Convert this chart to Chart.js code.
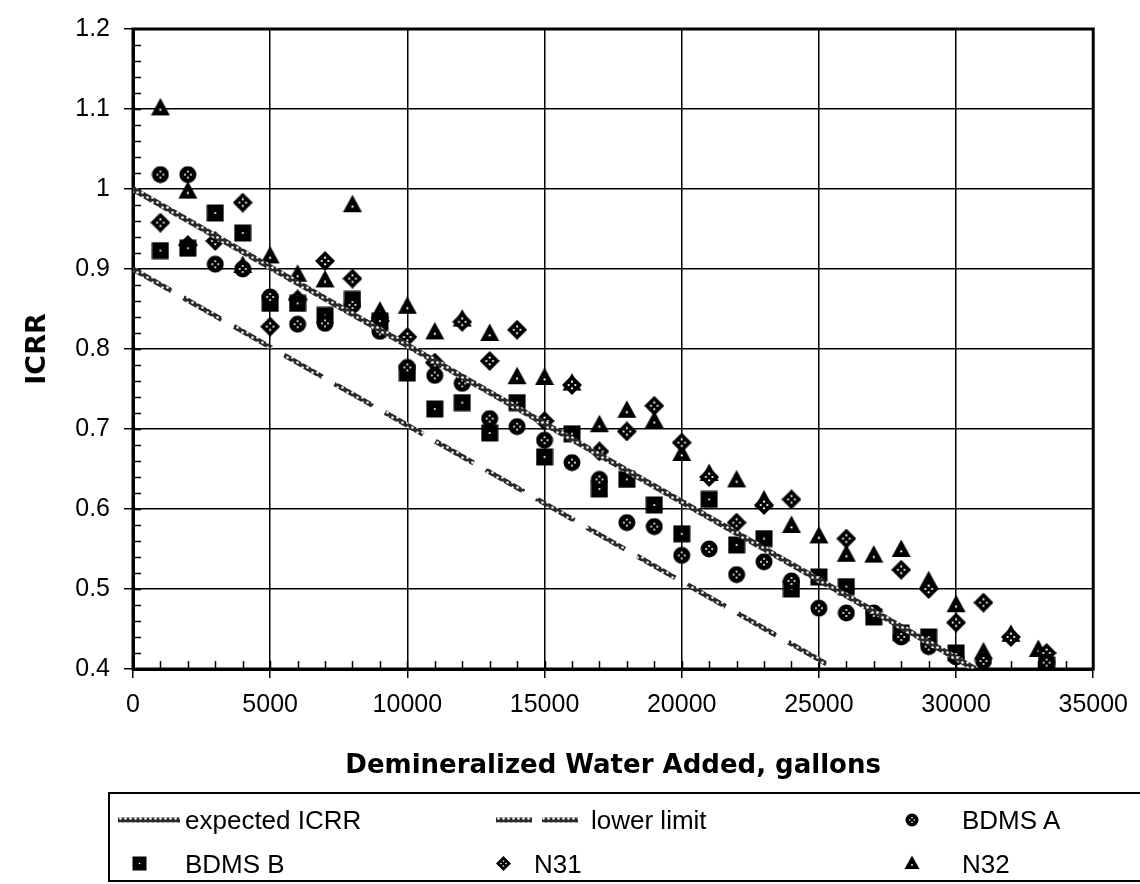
<!DOCTYPE html>
<html>
<head>
<meta charset="utf-8">
<script src="https://cdn.jsdelivr.net/npm/chart.js@4.4.0/dist/chart.umd.min.js"></script>
<style>
  html, body { margin: 0; padding: 0; background: #fff; }
  #wrap { position: relative; width: 1140px; height: 884px; overflow: hidden; }
  #legend { position: absolute; left: 108px; top: 792px; width: 1040px; height: 86px;
            border-top: 2px solid #000; border-bottom: 2px solid #000; border-left: 2px solid #000;
            font: 26px "Liberation Sans", Arial, sans-serif; color: #000; }
  .txt { position: absolute; white-space: nowrap; line-height: 30px; }
  .smp { position: absolute; }
</style>
</head>
<body>
<div id="wrap">
  <canvas id="chart" width="1140" height="884"></canvas>
  <div id="legend"></div>
</div>
<script>
// x in gallons, y = ICRR
var bdmsAX = [1000, 2000, 3000, 4000, 5000, 6000, 7000, 8000, 9000, 10000, 11000, 12000, 13000, 14000, 15000, 16000,
              17000, 18000, 19000, 20000, 21000, 22000, 23000, 24000, 25000, 26000, 27000, 28000, 29000, 30000, 31000, 33300];
var bdmsAY = [1.018, 1.018, 0.906, 0.900, 0.865, 0.831, 0.832, 0.855, 0.822, 0.777, 0.767, 0.757, 0.713, 0.703, 0.686, 0.658,
              0.637, 0.583, 0.578, 0.542, 0.550, 0.518, 0.534, 0.510, 0.476, 0.470, 0.470, 0.440, 0.428, 0.415, 0.410, 0.408];

var bdmsBX = [1000, 2000, 3000, 4000, 5000, 6000, 7000, 8000, 9000, 10000, 11000, 12000, 13000, 14000, 15000, 16000,
              17000, 18000, 19000, 20000, 21000, 22000, 23000, 24000, 25000, 26000, 27000, 28000, 29000, 30000, 33300];
var bdmsBY = [0.923, 0.926, 0.970, 0.945, 0.857, 0.857, 0.842, 0.862, 0.835, 0.770, 0.725, 0.733, 0.695, 0.733, 0.665, 0.694,
              0.625, 0.637, 0.605, 0.569, 0.612, 0.555, 0.563, 0.500, 0.515, 0.503, 0.465, 0.445, 0.440, 0.420, 0.405];

var n31X = [1000, 2000, 3000, 4000, 5000, 6000, 7000, 8000, 9000, 10000, 11000, 12000, 13000, 14000, 15000, 16000,
            17000, 18000, 19000, 20000, 21000, 22000, 23000, 24000, 26000, 28000, 29000, 30000, 31000, 32000, 33300];
var n31Y = [0.958, 0.930, 0.935, 0.983, 0.828, 0.862, 0.910, 0.888, 0.835, 0.815, 0.783, 0.834, 0.785, 0.824, 0.710, 0.755,
            0.672, 0.697, 0.729, 0.683, 0.640, 0.583, 0.605, 0.612, 0.563, 0.524, 0.500, 0.458, 0.483, 0.440, 0.420];

var n32X = [1000, 2000, 4000, 5000, 6000, 7000, 8000, 9000, 10000, 11000, 12000, 13000, 14000, 15000, 16000,
            17000, 18000, 19000, 20000, 21000, 22000, 23000, 24000, 25000, 26000, 27000, 28000, 29000, 30000, 31000, 32000, 33000];
var n32Y = [1.102, 0.998, 0.905, 0.917, 0.894, 0.887, 0.981, 0.848, 0.854, 0.822, 0.838, 0.820, 0.766, 0.765, 0.758,
            0.706, 0.724, 0.711, 0.670, 0.645, 0.637, 0.612, 0.580, 0.567, 0.544, 0.543, 0.550, 0.511, 0.481, 0.422, 0.444, 0.425];

var expectedX = [0, 30700];
var expectedY = [1.0, 0.4];
var lowerX = [0, 25600];
var lowerY = [0.9, 0.4];

var xTickLabels = ['0', '5000', '10000', '15000', '20000', '25000', '30000', '35000'];
var yTickLabels = ['0.4', '0.5', '0.6', '0.7', '0.8', '0.9', '1', '1.1', '1.2'];

function toXY(xs, ys) {
  return xs.map(function (x, i) { return { x: x, y: ys[i] }; });
}

// black marker with small white dots
function makeMarker(shape, s) {
  var c = document.createElement('canvas');
  c.width = s; c.height = s;
  var g = c.getContext('2d'), m = s / 2;
  g.fillStyle = '#000';
  g.beginPath();
  if (shape === 'circle') g.arc(m, m, m - 0.5, 0, 2 * Math.PI);
  else if (shape === 'square') g.rect(0.5, 0.5, s - 1, s - 1);
  else if (shape === 'diamond') { g.moveTo(m, 0); g.lineTo(s, m); g.lineTo(m, s); g.lineTo(0, m); g.closePath(); }
  else { g.moveTo(m, 0.5); g.lineTo(s - 0.5, s - 2); g.lineTo(0.5, s - 2); g.closePath(); }
  g.fill();
  g.fillStyle = '#fff';
  var d = s / 6, r = Math.max(0.8, s / 18);
  var dots = (shape === 'circle' || shape === 'diamond')
    ? [[m, m - d], [m, m + d], [m - d, m], [m + d, m]]
    : (shape === 'square' ? [[m, m]] : [[m, s * 0.62]]);
  dots.forEach(function (p) { g.beginPath(); g.arc(p[0], p[1], r, 0, 2 * Math.PI); g.fill(); });
  return c;
}

var canvas = document.getElementById('chart');
var ctx = canvas.getContext('2d');

function hatch(c2d) {
  var c = document.createElement('canvas');
  c.width = 5; c.height = 5;
  var g = c.getContext('2d');
  g.fillStyle = '#2a2a2a'; g.fillRect(0, 0, 5, 5);
  g.fillStyle = '#fff'; g.beginPath(); g.arc(2.5, 2.5, 1.3, 0, 2 * Math.PI); g.fill();
  return c2d.createPattern(c, 'repeat');
}
var linePattern = hatch(ctx);

var minorStepX = 1000, minorStepY = 0.02;

// plot frame + inward minor ticks
var framePlugin = {
  id: 'frame',
  beforeDatasetsDraw: function (chart) {
    var c = chart.ctx, a = chart.chartArea, sx = chart.scales.x, sy = chart.scales.y;
    c.save();
    c.strokeStyle = '#000';
    c.lineWidth = 1.5;
    c.beginPath();
    for (var v = sy.min + minorStepY; v < sy.max - 1e-6; v += minorStepY) {
      var py = Math.round(sy.getPixelForValue(v)) + 0.5;
      c.moveTo(a.left, py); c.lineTo(a.left + 8, py);
    }
    for (var g = sx.min + minorStepX; g < sx.max; g += minorStepX) {
      var px = Math.round(sx.getPixelForValue(g)) + 0.5;
      c.moveTo(px, a.bottom); c.lineTo(px, a.bottom - 8);
    }
    c.stroke();
    c.lineWidth = 3;
    c.strokeRect(a.left, a.top, a.right - a.left, a.bottom - a.top);
    c.restore();
  }
};

var mk = {
  circle: makeMarker('circle', 18),
  square: makeMarker('square', 18),
  diamond: makeMarker('diamond', 20),
  triangle: makeMarker('triangle', 20)
};

var chart = new Chart(ctx, {
  type: 'scatter',
  data: {
    datasets: [
      { label: 'expected ICRR', data: toXY(expectedX, expectedY), showLine: true, borderColor: linePattern,
        borderWidth: 6, pointRadius: 0, fill: false },
      { label: 'lower limit', data: toXY(lowerX, lowerY), showLine: true, borderColor: linePattern,
        borderWidth: 5, borderDash: [44, 14], pointRadius: 0, fill: false },
      { label: 'BDMS A', data: toXY(bdmsAX, bdmsAY), pointStyle: mk.circle, pointRadius: 9 },
      { label: 'BDMS B', data: toXY(bdmsBX, bdmsBY), pointStyle: mk.square, pointRadius: 9 },
      { label: 'N31', data: toXY(n31X, n31Y), pointStyle: mk.diamond, pointRadius: 9 },
      { label: 'N32', data: toXY(n32X, n32Y), pointStyle: mk.triangle, pointRadius: 9 }
    ]
  },
  options: {
    responsive: false,
    animation: false,
    layout: { padding: { top: 19, right: 45, bottom: 100, left: 0 } },
    plugins: { legend: { display: false }, tooltip: { enabled: false } },
    scales: {
      x: {
        type: 'linear', min: 0, max: 35000,
        ticks: { stepSize: 5000, color: '#000', padding: 12, maxRotation: 0,
                 font: { family: 'Liberation Sans', size: 25 },
                 callback: function (v, i) { return xTickLabels[i]; } },
        grid: { color: '#000', lineWidth: 1.5, tickLength: 9 },
        border: { color: '#000', width: 3 },
        title: { display: true, text: 'Demineralized Water Added, gallons', color: '#000',
                 font: { family: 'DejaVu Sans', size: 26, weight: 'bold' }, padding: { top: 0, bottom: 2 } },
        afterFit: function (s) { s.height = 115; }
      },
      y: {
        type: 'linear', min: 0.4, max: 1.2,
        ticks: { stepSize: 0.1, color: '#000', padding: 14,
                 font: { family: 'Liberation Sans', size: 25 },
                 callback: function (v, i) { return yTickLabels[i]; } },
        grid: { color: '#000', lineWidth: 1.5, tickLength: 9 },
        border: { color: '#000', width: 3 },
        title: { display: true, text: 'ICRR', color: '#000',
                 font: { family: 'DejaVu Sans', size: 27, weight: 'bold' }, padding: { top: 22, bottom: 0 } },
        afterFit: function (s) { s.width = 133; }
      }
    }
  },
  plugins: [framePlugin]
});

// legend (box at left 108, top 792)
var legend = document.getElementById('legend');
function addText(t, left, top) {
  var d = document.createElement('div');
  d.className = 'txt'; d.textContent = t;
  d.style.left = left + 'px'; d.style.top = top + 'px';
  legend.appendChild(d);
}
function addCanvas(c, left, top) {
  c.className = 'smp';
  c.style.left = left + 'px'; c.style.top = top + 'px';
  legend.appendChild(c);
}
function lineSample(w, dash) {
  var c = document.createElement('canvas');
  c.width = w; c.height = 8;
  var g = c.getContext('2d');
  g.strokeStyle = hatch(g); g.lineWidth = 5;
  if (dash) g.setLineDash(dash);
  g.beginPath(); g.moveTo(0, 4); g.lineTo(w, 4); g.stroke();
  return c;
}
var row1 = 11, row2 = 55;
addCanvas(lineSample(62), 8, row1 + 11);
addText('expected ICRR', 75, row1);
addCanvas(lineSample(90, [36, 10]), 386, row1 + 11);
addText('lower limit', 481, row1);
addCanvas(makeMarker('circle', 14), 795, row1 + 8);
addText('BDMS A', 852, row1);
addCanvas(makeMarker('square', 15), 22, row2 + 7);
addText('BDMS B', 75, row2);
addCanvas(makeMarker('diamond', 15), 386, row2 + 7);
addText('N31', 424, row2);
addCanvas(makeMarker('triangle', 16), 794, row2 + 6);
addText('N32', 852, row2);
</script>
</body>
</html>
